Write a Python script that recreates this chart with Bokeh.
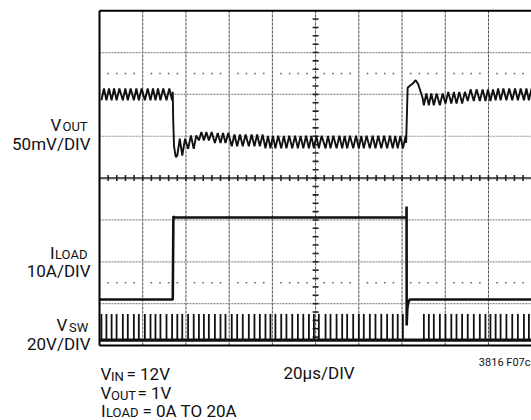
import numpy as np
from bokeh.plotting import figure
from bokeh.models import Range1d
from bokeh.core.properties import value
from bokeh.embed import file_html
from bokeh.resources import INLINE

# ---------------- data ----------------
# switching-node pulse instants, microseconds
sw_pulse_t = [0.9, 3.2, 5.6, 7.9, 10.8, 13.1, 15.9, 18.2, 21.0, 23.6, 25.9, 28.2, 31.0, 33.6,
              36.0, 38.3, 41.0, 43.6, 46.0, 48.3, 50.6, 53.4, 56.0, 58.3, 61.2, 63.7, 66.3,
              69.1, 71.7, 74.2, 76.8, 79.1, 81.4, 84.1, 86.5, 89.2, 91.8, 94.3, 96.9, 99.2,
              101.5, 104.6, 106.9, 109.7, 112.3, 114.6, 117.4, 120.0, 122.3, 125.1, 127.7,
              130.4, 133.1, 135.7, 138.0, 140.4,
              150.1, 152.4, 154.7, 157.5, 160.1, 162.8, 165.2, 167.8, 170.4, 173.2, 176.0,
              178.6, 180.9, 183.3, 185.6, 188.3, 191.0, 193.6, 196.4, 198.7]
vsw_high_v = 12.5
vsw_low_v = 0.0

# VOUT ripple level (mean and half peak-to-peak, mV) from each key time on
vout_key_t = [0.0, 35.9, 41.0, 45.0, 52.0, 60.0, 75.0, 150.0, 158.0, 170.0, 182.0]
vout_mean_mv = [0, -63, -57, -50, -52, -55, -57, -6, -4, -1, 0]
vout_half_mv = [7, 10, 8, 5, 6, 7, 7.5, 7, 7, 7, 7]
# load-step transients of VOUT (mV)
vout_down_t = [33.9, 34.1, 34.5, 35.3]
vout_down_mv = [3, -30, -62, -75]
vout_up_t = [141.9, 142.3, 142.6, 143.5, 145.0, 146.3, 147.5, 148.5, 149.5]
vout_up_mv = [-58, -20, 8, 10, 13, 17, 12, 4, -4]

# load current (A)
iload_t = [0.0, 33.9, 34.2, 34.6, 142.05, 142.1, 142.15, 142.4, 142.8, 143.6, 200.0]
iload_a = [0.0, 0.0, 19.9, 19.6, 19.6, 22.2, -6.2, -2.5, -0.8, 0.0, 0.0]

# channel scales (per division) and screen offsets (divisions)
vout_mv_per_div, vout_offset = 50.0, 6.0
iload_a_per_div, iload_offset = 10.0, 1.1
vsw_v_per_div, vsw_offset = 20.0, 0.13
us_per_div = 20.0

# ---------------- layout helpers ----------------
W, H = 531, 420
X0, PX_DIV_X = 99.0, 43.22     # picture px of t=0 and px per division
Y0, PX_DIV_Y = 345.0, 41.85    # picture px of bottom division line


def tx(px):
    return (px - X0) / PX_DIV_X * us_per_div


def ty(py):
    return (Y0 - py) / PX_DIV_Y


FONT = "Roboto"
INK = "#111111"

p = figure(width=W, height=H,
           x_range=Range1d(tx(0), tx(W)), y_range=Range1d(ty(H), ty(0)),
           output_backend="svg", toolbar_location=None, min_border=0,
           x_axis_location=None, y_axis_location=None,
           outline_line_color=None, background_fill_color="white",
           border_fill_color="white")
p.xgrid.visible = False
p.ygrid.visible = False

# ---------------- graticule ----------------
t_full = 10 * us_per_div
vgrid = [us_per_div * k for k in range(1, 10)]
p.segment(x0=vgrid, y0=[0] * 9, x1=vgrid, y1=[8] * 9,
          line_color="#4d4d4d", line_width=1, line_dash="3 1")
hgrid = [1, 2, 3, 5, 6, 7]
p.segment(x0=[0] * 6, y0=hgrid, x1=[t_full] * 6, y1=hgrid,
          line_color="#8c8c8c", line_width=1.2, line_dash="2 1")
# centre lines with minor ticks
p.segment(x0=[0], y0=[4], x1=[t_full], y1=[4], line_color="#5a5a5a", line_width=2.2)
tick_x = [us_per_div * k / 5 for k in range(1, 50)]
th = 3 / PX_DIV_Y
p.segment(x0=tick_x, y0=[4 - th] * len(tick_x), x1=tick_x, y1=[4 + th] * len(tick_x),
          line_color="#222222", line_width=1.6)
tick_y = [k / 5 for k in range(1, 40)]
tw = 3 / PX_DIV_X * us_per_div
p.segment(x0=[5 * us_per_div - tw] * len(tick_y), y0=tick_y,
          x1=[5 * us_per_div + tw] * len(tick_y), y1=tick_y,
          line_color="#222222", line_width=1.6)
# dotted reference rows
dot_x = [us_per_div * k / 5 for k in range(1, 50) if k % 5]
for row in (6.5, 1.5):
    p.scatter(x=dot_x, y=[row] * len(dot_x), marker="square", size=1.6,
              fill_color="#666666", line_color=None)

# ---------------- traces ----------------
# VSW
vsw_lo = vsw_offset + vsw_low_v / vsw_v_per_div
vsw_hi = vsw_offset + vsw_high_v / vsw_v_per_div
p.segment(x0=[0], y0=[vsw_lo], x1=[t_full], y1=[vsw_lo], line_color=INK, line_width=3.2)
p.segment(x0=sw_pulse_t, y0=[vsw_lo] * len(sw_pulse_t), x1=sw_pulse_t,
          y1=[vsw_hi] * len(sw_pulse_t), line_color=INK, line_width=1.8)

# ILOAD
p.line(x=iload_t, y=[iload_offset + a / iload_a_per_div for a in iload_a],
       line_color=INK, line_width=2.6)

# VOUT: ripple vertices tied to the switching pulses, plus the step transients
kt = np.array(vout_key_t)
pts = []
for i, t in enumerate(sw_pulse_t):
    j = int(np.searchsorted(kt, t, side="right")) - 1
    m, h = vout_mean_mv[j], vout_half_mv[j]
    nxt = sw_pulse_t[i + 1] if i + 1 < len(sw_pulse_t) else t + 2.5
    pts.append((t, m - h))
    pts.append((t + min((nxt - t) / 2, 1.3), m + h))
pts = [q for q in pts
       if not (vout_down_t[0] <= q[0] < 35.9 or vout_up_t[0] <= q[0] < 150.0)]
pts += list(zip(vout_down_t, vout_down_mv)) + list(zip(vout_up_t, vout_up_mv))
pts.sort()
p.line(x=[q[0] for q in pts], y=[vout_offset + q[1] / vout_mv_per_div for q in pts],
       line_color=INK, line_width=1.9)

# ---------------- frame borders ----------------
p.segment(x0=[0, 0, 0], y0=[8, 0, 0], x1=[t_full, t_full, 0], y1=[8, 0, 8],
          line_color="#000000", line_width=2)

# ---------------- texts ----------------
M, S = 17, 13   # main and subscript font sizes (px)
texts = [  # (text, picture x, picture baseline y, size px, align)
    ("V", 50, 124, M, "left"), ("OUT", 62, 125.5, S, "left"),
    ("50mV/DIV", 90, 143, M, "right"),
    ("I", 49.5, 252, M, "left"), ("LOAD", 54.5, 253.5, S, "left"),
    ("10A/DIV", 90, 270, M, "right"),
    ("V", 56, 324, M, "left"), ("SW", 68.5, 326.5, S, "left"),
    ("20V/DIV", 90, 343, M, "right"),
    ("V", 100, 373, M, "left"), ("IN", 110.5, 376, S, "left"),
    ("= 12V", 126, 373, M, "left"),
    ("V", 100, 392, M, "left"), ("OUT", 110.5, 395, S, "left"),
    ("= 1V", 137, 392, M, "left"),
    ("I", 100.5, 410, M, "left"), ("LOAD", 105.5, 412, S, "left"),
    ("= 0A TO 20A", 142, 410, M, "left"),
    ("20\u00b5s/DIV", 283, 372, M, "left"),
    ("3816 F07c", 530, 362, 11, "right"),
]
for s, x, y, size, align in texts:
    p.text(x=[tx(x)], y=[ty(y)], text=[s], text_font=value(FONT),
           text_font_size=f"{size}px", text_align=align,
           text_baseline="alphabetic", text_color=INK)

open("out.html", "w").write(file_html(p, INLINE))
